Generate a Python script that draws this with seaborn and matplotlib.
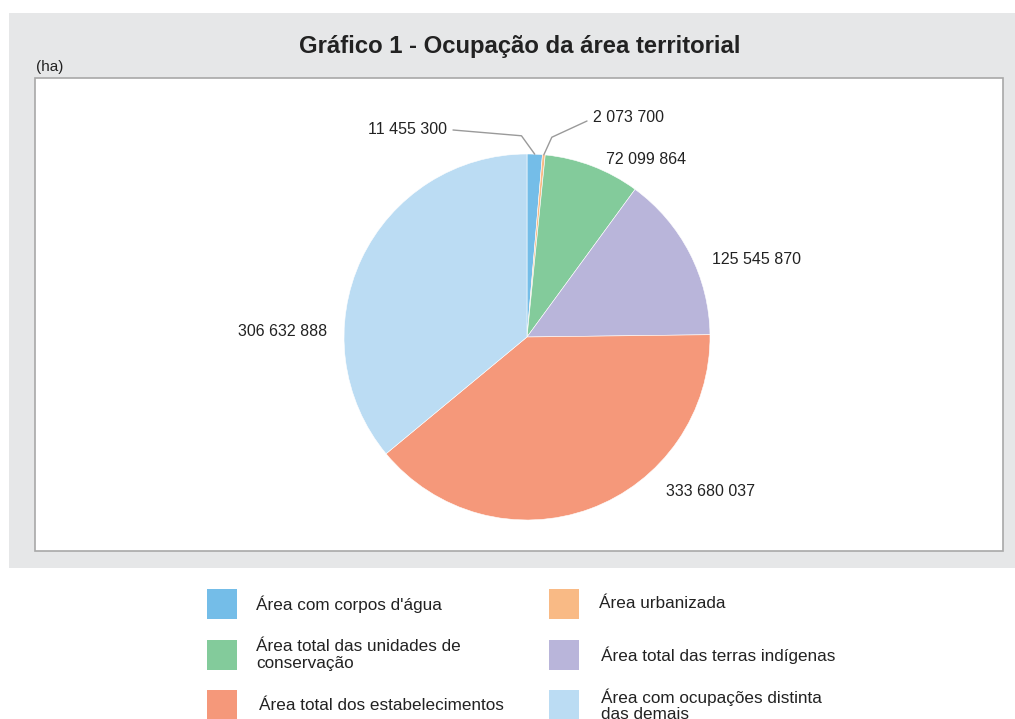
import numpy as np
import matplotlib.pyplot as plt
import seaborn as sns
from matplotlib.patches import Rectangle

# values in hectares, clockwise from the top
categorias = ["Área com corpos d'água", "Área urbanizada",
              "Área total das unidades de\nconservação", "Área total das terras indígenas",
              "Área total dos estabelecimentos", "Área com ocupações distinta\ndas demais"]
valores = [11455300, 2073700, 72099864, 125545870, 333680037, 306632888]
rotulos = ["11 455 300", "2 073 700", "72 099 864", "125 545 870", "333 680 037", "306 632 888"]
cores = ["#74BDE8", "#F9BA85", "#83CB9B", "#B9B5DA", "#F5987A", "#BBDCF3"]

W, H = 1015, 719
sns.set_theme(style="white")
plt.rcParams['font.family'] = ['Liberation Sans', 'DejaVu Sans']

fig = plt.figure(figsize=(W / 100, H / 100), dpi=100)
ax = fig.add_axes([0, 0, 1, 1])


def py(y):
    # pixel row (from top) -> data y
    return H - y


# background panels
ax.add_patch(Rectangle((9, py(568)), W - 9, 568 - 13, facecolor="#E6E7E8", edgecolor="none", zorder=0))
ax.add_patch(Rectangle((35, py(551)), 1003 - 35, 551 - 78, facecolor="white",
                       edgecolor="#A8A8A8", linewidth=1.2, zorder=1))

cx, cy, r = 527, py(337), 183
wedges, _ = ax.pie(valores, colors=sns.color_palette(cores), startangle=90, counterclock=False,
                   center=(cx, cy), radius=r, frame=True,
                   wedgeprops=dict(edgecolor="white", linewidth=0.4, zorder=2))
ax.set_xlim(0, W)
ax.set_ylim(0, H)
ax.set_aspect("auto")
ax.axis("off")

ax.text(520, py(46), "Gráfico 1 - Ocupação da área territorial", ha="center", va="center",
        fontsize=17.2, fontweight="bold", color="#222222")
ax.text(36, py(67), "(ha)", ha="left", va="center", fontsize=11, color="#222222")

# label placement (text anchor in pixels, alignment)
pos_rotulos = [(447, 129, "right"), (593, 117, "left"), (606, 159, "left"),
               (712, 259, "left"), (666, 491, "left"), (327, 331, "right")]
for w, txt, (tx, ty, ha) in zip(wedges, rotulos, pos_rotulos):
    ax.text(tx, py(ty), txt, ha=ha, va="center", fontsize=11.5, color="#222222", zorder=3)

# leader lines for the two thin slices (elbow spread a little apart)
for i, (lx, ly), spread in zip([0, 1], [(453, 130), (587, 121)], [4.0, -1.8]):
    w = wedges[i]
    ang = np.deg2rad((w.theta1 + w.theta2) / 2)
    ex, ey = cx + r * np.cos(ang), cy + r * np.sin(ang)
    ka = ang + np.deg2rad(spread)
    kx, ky = cx + 1.1 * r * np.cos(ka), cy + 1.1 * r * np.sin(ka)
    ax.plot([lx, kx, ex], [py(ly), ky, ey], color="#9A9A9A", linewidth=1, zorder=3)

# legend
leg_pos = [(207, 604, 256), (549, 604, 599), (207, 655, 256),
           (549, 655, 601), (207, 705, 259), (549, 705, 601)]
for cor, nome, (bx, by, tx) in zip(cores, categorias, leg_pos):
    ax.add_patch(Rectangle((bx, py(by + 15)), 30, 30, facecolor=cor, edgecolor="none"))
    ax.text(tx, py(by), nome, ha="left", va="center", fontsize=12.3, color="#222222",
            linespacing=1.1)

fig.savefig("out.png", dpi=100, facecolor="white")
